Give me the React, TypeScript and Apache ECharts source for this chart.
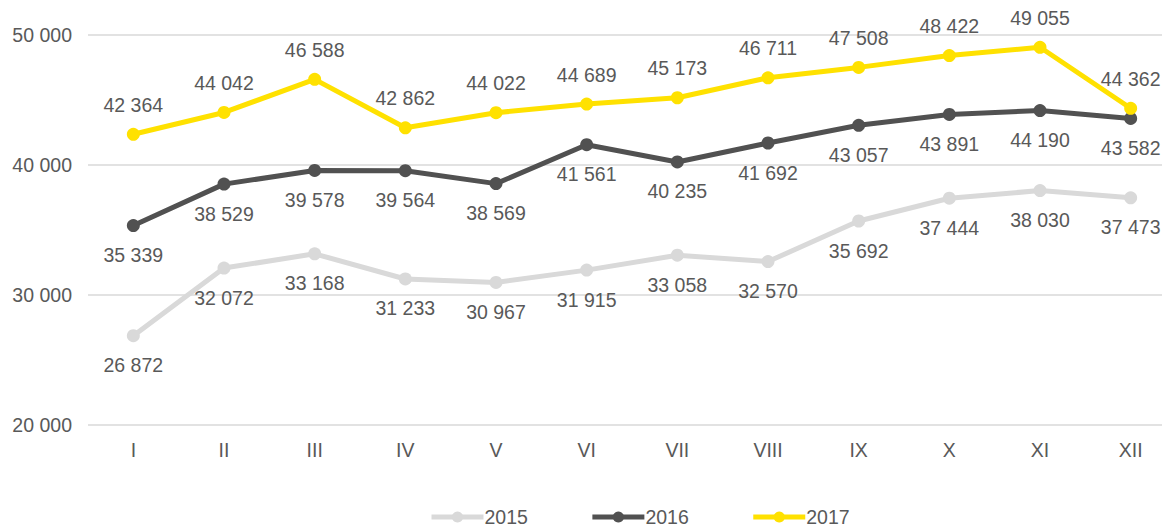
import React, { useEffect, useRef } from "react";
import * as echarts from "echarts";

const categories = ["I", "II", "III", "IV", "V", "VI", "VII", "VIII", "IX", "X", "XI", "XII"];
const values2015 = [26872, 32072, 33168, 31233, 30967, 31915, 33058, 32570, 35692, 37444, 38030, 37473];
const values2016 = [35339, 38529, 39578, 39564, 38569, 41561, 40235, 41692, 43057, 43891, 44190, 43582];
const values2017 = [42364, 44042, 46588, 42862, 44022, 44689, 45173, 46711, 47508, 48422, 49055, 44362];
const yTicks = { min: 20000, max: 50000, interval: 10000 };

const fmt = (v: number) => {
  const s = String(Math.round(v));
  return s.replace(/\B(?=(\d{3})+(?!\d))/g, " ");
};

const textColor = "#595959";
const font = "Liberation Sans, Arial, sans-serif";
const fs = 19.5;

export default function App() {
  const ref = useRef<HTMLDivElement>(null);
  useEffect(() => {
    if (!ref.current) return;
    const chart = echarts.init(ref.current, null, { renderer: "svg" });
    const mk = (name: string, data: number[], color: string, pos: string, z: number) => ({
      name,
      type: "line",
      data,
      z,
      symbol: "circle",
      symbolSize: 13,
      lineStyle: { width: 5, color },
      itemStyle: { color },
      label: {
        show: true,
        position: pos,
        distance: 13,
        color: textColor,
        fontSize: fs,
        fontFamily: font,
        formatter: (p: any) => fmt(p.value),
      },
    });
    chart.setOption({
      animation: false,
      textStyle: { fontFamily: font },
      grid: { left: 88, right: 0, top: 35, bottom: 104, containLabel: false, outerBoundsMode: "none" },
      legend: {
        bottom: -3,
        left: 424,
        itemWidth: 52,
        itemHeight: 14,
        itemGap: 62,
        lineStyle: { width: 5 },
        textStyle: { color: textColor, fontSize: fs, fontFamily: font, padding: [0, 0, 0, -4] },
        data: ["2015", "2016", "2017"],
      },
      xAxis: {
        type: "category",
        data: categories,
        boundaryGap: true,
        axisLine: { show: false },
        axisTick: { show: false },
        axisLabel: { color: textColor, fontSize: fs, fontFamily: font, margin: 15 },
      },
      yAxis: {
        type: "value",
        min: yTicks.min,
        max: yTicks.max,
        interval: yTicks.interval,
        axisLine: { show: false },
        axisTick: { show: false },
        splitLine: { lineStyle: { color: "#D9D9D9", width: 1.5 } },
        axisLabel: { color: textColor, fontSize: fs, fontFamily: font, margin: 16, formatter: (v: number) => fmt(v) },
      },
      series: [
        mk("2015", values2015, "#D9D9D9", "bottom", 2),
        mk("2016", values2016, "#515151", "bottom", 3),
        mk("2017", values2017, "#FFE100", "top", 4),
      ],
    });
    return () => chart.dispose();
  }, []);
  return (
    <div style={{ position: "fixed", left: 0, top: 0, width: 1162, height: 529, overflow: "hidden", background: "#fff" }}>
      <div ref={ref} style={{ width: 1176, height: 529 }} />
    </div>
  );
}
